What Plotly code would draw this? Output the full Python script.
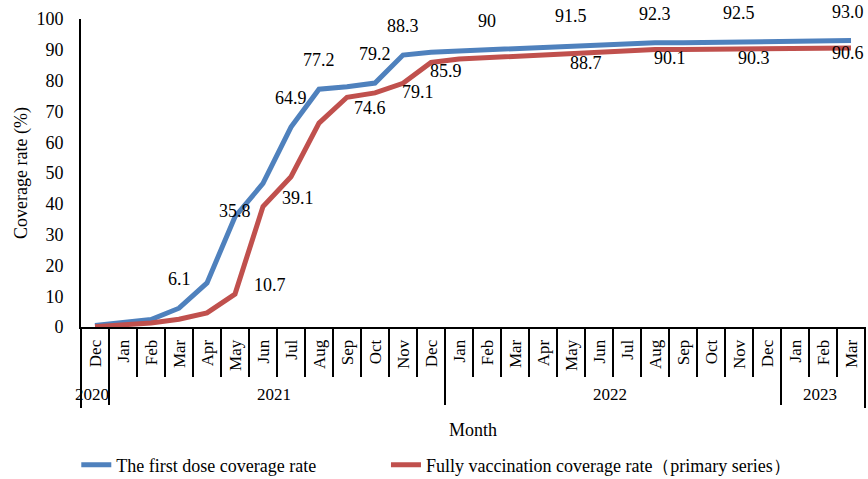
import plotly.graph_objects as go

# x axis: two levels (year, month)
# the 2020 "Dec" carries a zero-width space so plotly keeps the inner order Dec, Jan..Dec
years = ['2020'] + ['2021'] * 12 + ['2022'] * 12 + ['2023'] * 3
months = ['Dec\u200b',
          'Jan', 'Feb', 'Mar', 'Apr', 'May', 'Jun', 'Jul', 'Aug', 'Sep', 'Oct', 'Nov', 'Dec',
          'Jan', 'Feb', 'Mar', 'Apr', 'May', 'Jun', 'Jul', 'Aug', 'Sep', 'Oct', 'Nov', 'Dec',
          'Jan', 'Feb', 'Mar']

# coverage rates (%)
first_dose = [0.5, 1.6, 2.4, 6.1, 14.3, 35.8, 46.6, 64.9, 77.2, 78.0, 79.2, 88.3, 89.2,
              89.6, 90.0, 90.6, 91.1, 91.5, 91.7, 92.0, 92.3, 92.3, 92.4, 92.5, 92.7,
              92.8, 92.9, 93.0]
full_vacc = [0.1, 0.6, 1.3, 2.5, 4.6, 10.7, 39.1, 48.8, 66.2, 74.6, 76.0, 79.1, 85.9,
             87.0, 87.5, 87.9, 88.3, 88.7, 89.2, 89.6, 90.1, 90.1, 90.2, 90.3, 90.4,
             90.5, 90.6, 90.6]

# data labels shown on the chart
first_label_idx = [3, 5, 7, 8, 10, 11, 14, 17, 20, 23, 27]
first_label_txt = ['6.1', '35.8', '64.9', '77.2', '79.2', '88.3', '90', '91.5', '92.3', '92.5', '93.0']
full_label_idx = [5, 6, 9, 11, 12, 17, 20, 23, 27]
full_label_txt = ['10.7', '39.1', '74.6', '79.1', '85.9', '88.7', '90.1', '90.3', '90.6']

BLUE = '#4F81BD'
RED = '#C0504D'
FONT = 'Liberation Serif, Times New Roman, serif'

fig = go.Figure()
fig.add_trace(go.Scatter(x=[years, months], y=first_dose, mode='lines',
                         name='The first dose coverage rate', legend='legend', showlegend=True,
                         line=dict(color=BLUE, width=5)))
fig.add_trace(go.Scatter(x=[years, months], y=full_vacc, mode='lines',
                         name='Fully vaccination coverage rate（primary series）', legend='legend2',
                         showlegend=True, line=dict(color=RED, width=5)))

for i, t in zip(first_label_idx, first_label_txt):
    xs = -3 if i == 27 else 0
    ys = 6 if i == 5 else 29
    fig.add_annotation(x=i, y=first_dose[i], text=t, showarrow=False, xshift=xs, yshift=ys,
                       font=dict(size=18, color='black', family=FONT))
for i, t in zip(full_label_idx, full_label_txt):
    if i in (5, 6):
        xs, ys = 35, 9
    elif i == 27:
        xs, ys = -3, -5
    elif i == 9:
        xs, ys = 23, -11
    else:
        xs, ys = 15, -9
    fig.add_annotation(x=i, y=full_vacc[i], text=t, showarrow=False, xshift=xs, yshift=ys,
                       font=dict(size=18, color='black', family=FONT))

# outer divider lines at both ends of the two-level axis
for xe in (0, 1):
    fig.add_shape(type='line', xref='paper', yref='paper', x0=xe, x1=xe, y0=0, y1=-0.263,
                  line=dict(color='black', width=2))

fig.update_xaxes(type='multicategory', range=[-0.5, len(months) - 0.5],
                 showline=True, linecolor='black', linewidth=2,
                 ticks='outside', tickson='boundaries', ticklen=48, tickcolor='black', tickwidth=2,
                 tickangle=-90, ticklabelstandoff=4,
                 showdividers=True, dividercolor='black', dividerwidth=2,
                 showgrid=False, tickfont=dict(size=17, color='black', family=FONT),
                 title=dict(text='Month', font=dict(size=18, color='black', family=FONT), standoff=20))
fig.update_yaxes(range=[0, 100], dtick=10, showline=True, linecolor='black', linewidth=2,
                 showgrid=False, zeroline=False, ticks='', ticklabelstandoff=12,
                 tickfont=dict(size=18, color='black', family=FONT),
                 title=dict(text='Coverage rate (%)', font=dict(size=18, color='black', family=FONT),
                            standoff=4))

legend_font = dict(size=18, color='black', family=FONT)
fig.update_layout(width=868, height=479, plot_bgcolor='white', paper_bgcolor='white',
                  margin=dict(l=81, r=3, t=19, b=152, autoexpand=False),
                  font=dict(family=FONT, color='black'), showlegend=True,
                  legend=dict(orientation='h', x=-0.006, xanchor='left', y=-0.448, yanchor='middle',
                              font=legend_font),
                  legend2=dict(orientation='h', x=0.389, xanchor='left', y=-0.448, yanchor='middle',
                               font=legend_font))

# drop the default 8px body margin so the figure fills the window exactly
fig.write_html('out.html', config={'displayModeBar': False},
               post_script="document.body.style.margin = '0px';")
